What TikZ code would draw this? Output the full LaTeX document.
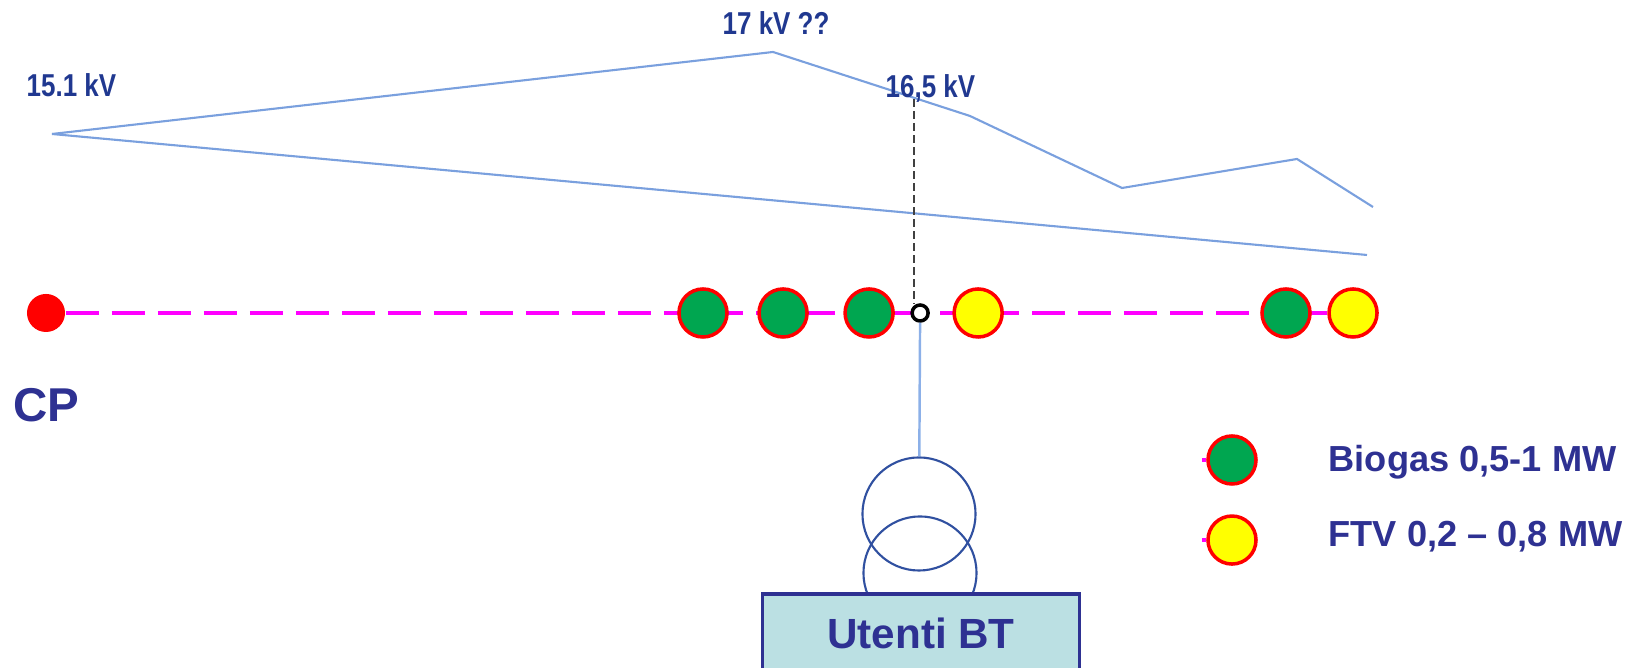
\documentclass[tikz,border=0pt]{standalone}
\usepackage{fontspec}
\setmainfont{Liberation Sans}
\newfontfamily\narrowfont[FakeStretch=0.82]{Liberation Sans}
\usepackage{tikz}
\usetikzlibrary{arrows}
\usetikzlibrary{shapes}
\usetikzlibrary{backgrounds}
\usetikzlibrary{positioning}

\definecolor{kvblue}{RGB}{32,56,144}
\definecolor{ink}{RGB}{46,49,146}
\definecolor{biogreen}{RGB}{0,166,80}
\definecolor{pvyellow}{RGB}{255,255,0}
\definecolor{feeder}{RGB}{255,0,255}
\definecolor{profblue}{RGB}{122,160,222}
\definecolor{tapblue}{RGB}{140,176,232}
\definecolor{trafoblue}{RGB}{48,80,160}
\definecolor{boxfill}{RGB}{187,224,227}

\tikzstyle{bio}=[
   circle,
   draw=red,
   line width=1pt,
   fill=biogreen,
   minimum size=0.48cm,
   inner sep=0pt
]
\tikzstyle{ftv}=[bio, fill=pvyellow]
\tikzstyle{cpdot}=[circle, fill=red, minimum size=0.38cm, inner sep=0pt]
\tikzstyle{bus}=[circle, draw=black, line width=1pt, fill=white, minimum size=0.16cm, inner sep=0pt]
\tikzstyle{trafo}=[circle, draw=trafoblue, line width=0.6pt, minimum size=1.13cm, inner sep=0pt]
\tikzstyle{utbox}=[
   rectangle,
   draw=ink,
   line width=1pt,
   fill=boxfill,
   anchor=north,
   minimum width=3.17cm,
   minimum height=0.8cm,
   text=ink,
   font=\fontsize{12}{14}\selectfont\bfseries
]
\tikzset{
  kv/.style={anchor=base west, inner sep=0pt, text=kvblue, font=\narrowfont\fontsize{9}{10}\selectfont\bfseries},
  big/.style={anchor=base west, inner sep=0pt, text=ink, font=\fontsize{13.5}{16}\selectfont\bfseries},
  legend/.style={anchor=base west, inner sep=0pt, text=ink, font=\fontsize{10.3}{12}\selectfont\bfseries},
  feed/.style={draw=feeder, line width=1.2pt, dash pattern=on 0.33cm off 0.13cm},
  profile/.style={draw=profblue, line width=0.6pt},
  probe/.style={draw=black!75, line width=0.7pt, dash pattern=on 0.08cm off 0.04cm},
  tap/.style={draw=tapblue, line width=0.7pt}
}

\begin{document}
\begin{tikzpicture}[x=0.01cm,y=-0.01cm,node distance=0.8cm]
  \useasboundingbox (0,0) rectangle (1632,668);
  \clip (0,0) rectangle (1632,668);

  \coordinate (v151) at (52,134);
  \coordinate (v17)  at (773,52);
  \coordinate (p165) at (914,99);
  \draw[profile] (v151) -- (v17) -- (970,116) -- (1122,188) -- (1297,159) -- (1373,207);
  \draw[profile] (v151) -- (1367,255);

  \node[kv]   (l151) at (26,97)  {15.1 kV};
  \node[kv]   (l17)  at (722,35) {17 kV ??};
  \node[kv]   (l165) at (885,98) {16,5 kV};

  \node[cpdot] (cp) at (46,313) {};
  \node[big]   (lcp) at (13,422) {CP};

  \node[bio] (g1) at (703,313) {};
  \node[bio] (g2) [right of=g1] {};
  \node[bio] (g3) [right of=g2, xshift=0.06cm] {};
  \node[bus] (b)  [right of=g3, xshift=-0.29cm] {};
  \node[ftv] (y1) [right of=b, xshift=-0.22cm] {};
  \node[bio] (g4) at (1286,313) {};
  \node[ftv] (y2) [right of=g4, xshift=-0.13cm] {};

  \node[bio] (lb) at (1232,460) {};
  \node[ftv] (lf) [below of=lb] {};
  \node[legend] (tb) at (1328,472) {Biogas 0,5-1 MW};
  \node[legend] (tf) at (1328,547) {FTV 0,2 -- 0,8 MW};

  \begin{scope}[on background layer]
    \draw[feed] (cp) -- (y2);
    \draw[feed, solid] ([xshift=-0.04cm]lb.west) -- (lb.west);
    \draw[feed, solid] ([xshift=-0.04cm]lf.west) -- (lf.west);
  \end{scope}

  \draw[probe] (p165) -- (p165 |- b.north);

  \node[trafo] (t1) at (919,514) {};
  \node[trafo] (t2) at (920,573) {};
  \draw[tap] (b) -- (t1);
  \node[utbox] (bt) at (921,592) {Utenti BT};

\end{tikzpicture}
\end{document}
